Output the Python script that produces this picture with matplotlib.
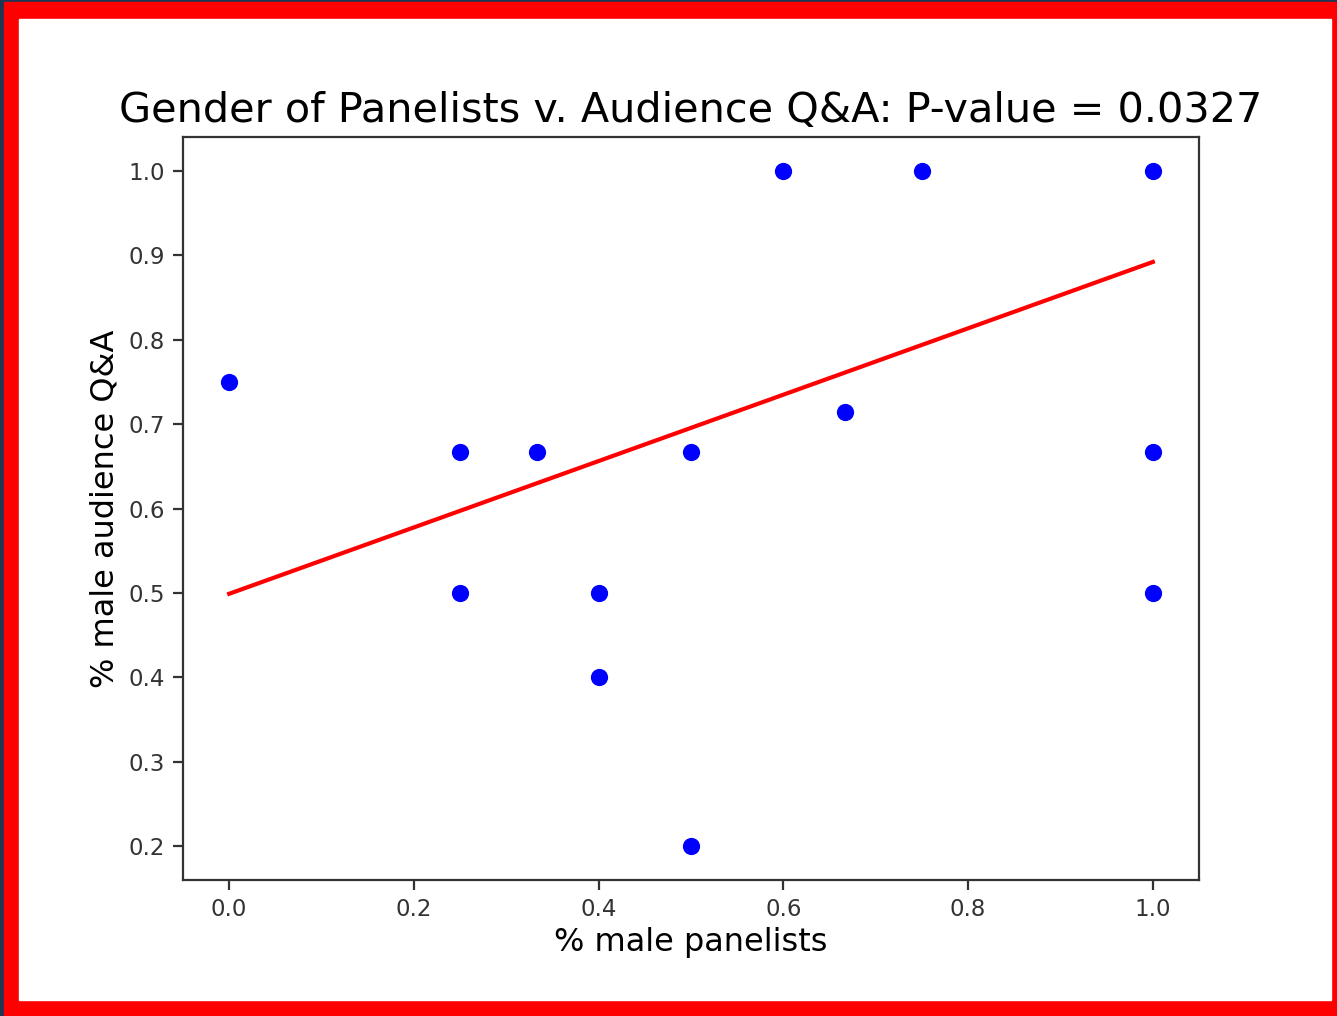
import numpy as np
import matplotlib
matplotlib.use('Agg')
import matplotlib.pyplot as plt
from matplotlib.patches import Rectangle

### 0. Data
pct_male_panel = [0.0, 0.25, 0.333, 0.5, 0.25, 0.4, 0.4, 0.5, 0.6, 0.75, 0.667, 1.0, 1.0, 1.0]
pct_male_qa = [0.75, 0.667, 0.667, 0.667, 0.5, 0.5, 0.4, 0.2, 1.0, 1.0, 0.714, 1.0, 0.667, 0.5]
fit_intercept = 0.499
fit_slope = 0.393
p_value = 0.0327

### 1. Figure (screenshot size with red frame)
W, H = 1337, 1016
fig = plt.figure(figsize=(W / 100, H / 100), dpi=100, facecolor='#1c3656')
fig.patches.append(Rectangle((4 / W, 0), (W - 4) / W, (H - 2) / H,
                             transform=fig.transFigure, color='red', zorder=-2))
fig.patches.append(Rectangle((19 / W, 16 / H), (1331 - 19) / W, (1000 - 19) / H,
                             transform=fig.transFigure, color='white', zorder=-1))

ax = fig.add_axes([183 / W, (H - 880) / H, (1199 - 183) / W, (880 - 137) / H])

### 2. Plot
ax.scatter(pct_male_panel, pct_male_qa, s=130, color='blue', zorder=3)
xx = np.array([min(pct_male_panel), max(pct_male_panel)])
ax.plot(xx, fit_intercept + fit_slope * xx, color='red', lw=3)

ax.set_xticks([0.0, 0.2, 0.4, 0.6, 0.8, 1.0])
ax.set_yticks([0.2, 0.3, 0.4, 0.5, 0.6, 0.7, 0.8, 0.9, 1.0])
ax.set_xlim(-0.05, 1.05)
ax.set_ylim(0.16, 1.04)

for s in ax.spines.values():
    s.set_linewidth(1.6)
    s.set_color('#333333')
ax.tick_params(labelsize=16.5, length=7, width=1.6, pad=6, colors='#333333')

ax.set_title('Gender of Panelists v. Audience Q&A: P-value = {}'.format(p_value),
             fontsize=29.8, pad=11)
ax.set_xlabel('% male panelists', fontsize=23, labelpad=4)
ax.set_ylabel('% male audience Q&A', fontsize=23, labelpad=6)

fig.savefig('out.png', dpi=100, facecolor=fig.get_facecolor())
